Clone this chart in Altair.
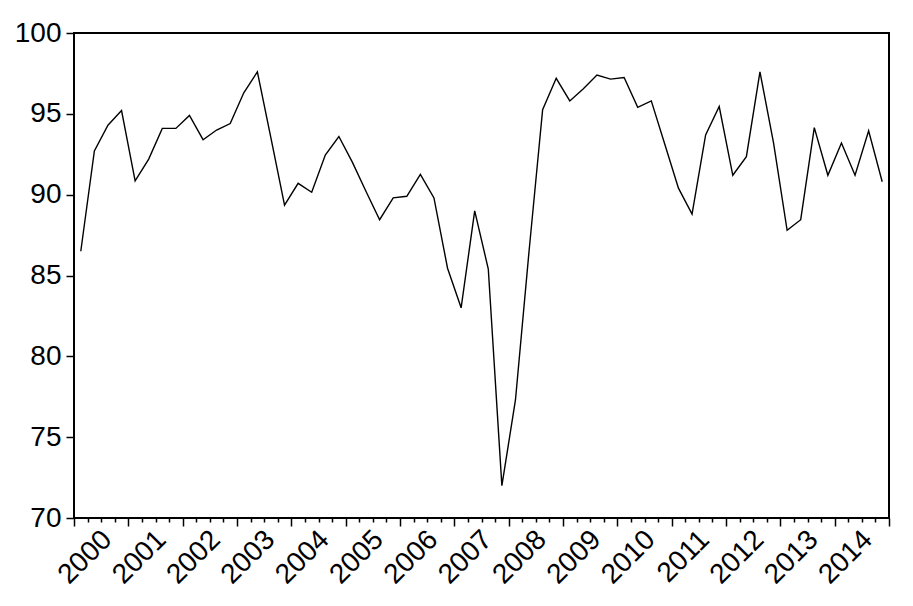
import altair as alt
import pandas as pd

years = [y for y in range(2000, 2015) for _ in range(4)]
quarters = [1, 2, 3, 4] * 15
values = [86.5, 92.7, 94.3, 95.2, 90.85, 92.2, 94.1, 94.1, 94.9, 93.4, 94.0, 94.4, 96.3, 97.6, 93.5, 89.35, 90.7, 90.15, 92.45, 93.6,
          92.0, 90.2, 88.45, 89.8, 89.9, 91.25, 89.8, 85.45, 83.0, 89.0, 85.4, 72.0, 77.3, 86.5, 95.25, 97.2, 95.8, 96.55, 97.4, 97.15,
          97.25, 95.4, 95.8, 93.1, 90.4, 88.8, 93.7, 95.45, 91.2, 92.35, 97.6, 93.2, 87.8, 88.45, 94.15, 91.2, 93.2, 91.2, 93.95, 90.8]
y_ticks = [70, 75, 80, 85, 90, 95, 100]
x_ticks = [2000 + k / 4 for k in range(61)]

df = pd.DataFrame({"year": years, "quarter": quarters, "value": values})

FONT = "Liberation Sans"

chart = alt.Chart(df).transform_calculate(
    t="datum.year + (datum.quarter - 0.5) / 4"
).mark_line(color="black", strokeWidth=1.4).encode(
    x=alt.X("t:Q", scale=alt.Scale(domain=[2000, 2015], nice=False, zero=False),
            axis=alt.Axis(values=x_ticks, title=None, grid=False, domain=False,
                          tickColor="black", tickWidth=1.5,
                          tickSize={"condition": {"test": "abs(datum.value - round(datum.value)) < 0.01", "value": 8}, "value": 4},
                          labelExpr="(abs(datum.value - round(datum.value)) < 0.01 && datum.value < 2015) ? format(datum.value, 'd') : ''",
                          labelAngle=-45, labelAlign="right", labelBaseline="middle",
                          labelOffset=33, labelPadding=9, labelOverlap=False, labelFlush=False, labelBound=False,
                          labelFont=FONT, labelFontSize=28, labelColor="black")),
    y=alt.Y("value:Q", scale=alt.Scale(domain=[70, 100], nice=False, zero=False),
            axis=alt.Axis(values=y_ticks, title=None, grid=False, domain=False,
                          tickColor="black", tickWidth=1.5, tickSize=8, labelPadding=5,
                          labelFont=FONT, labelFontSize=28, labelColor="black")),
).properties(
    width=815, height=485,
    autosize=alt.AutoSizeParams(type="none"),
    padding={"left": 66, "top": 25, "right": 10, "bottom": 80},
    background="white",
).configure_view(stroke="black", strokeWidth=2)

chart.save("out.html", embed_options={"renderer": "svg", "actions": False})
